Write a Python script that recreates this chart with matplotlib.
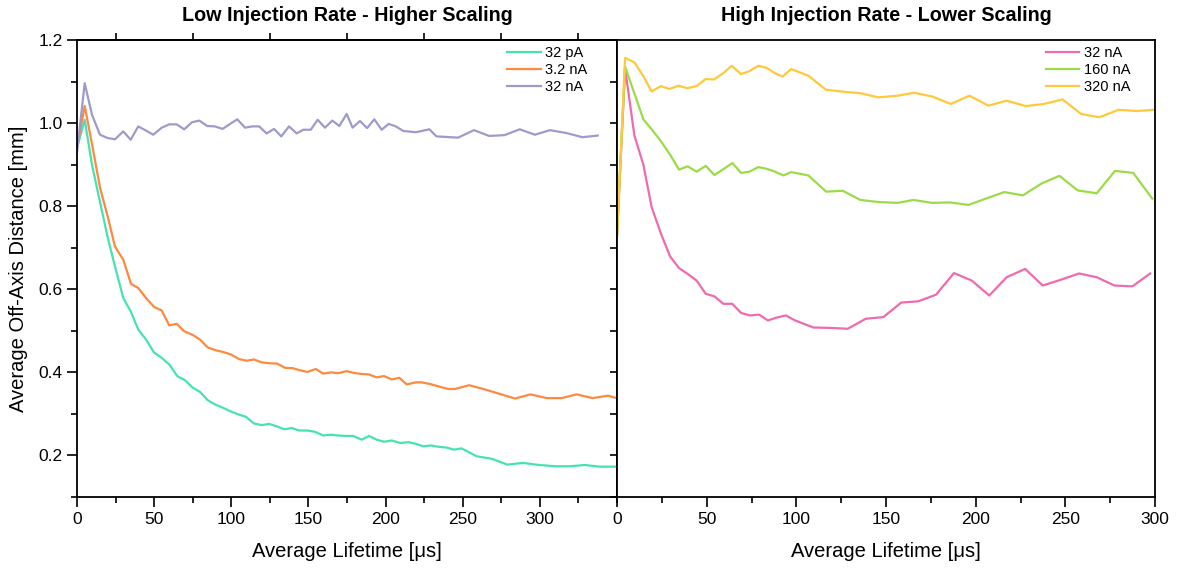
import matplotlib
import matplotlib.pyplot as plt
from matplotlib.ticker import MultipleLocator, FixedLocator, NullFormatter

matplotlib.use("Agg")

plt.rcParams.update({
    "font.family": ["Liberation Sans", "DejaVu Sans"],
    "font.size": 12.5,
    "axes.linewidth": 1.3,
})

# --- data: left panel (low injection rate) ---
x_32pA = [0, 5, 9.7, 14.9, 19.9, 24.6, 30, 34.8, 39.7, 44.7, 49.9, 54.9, 59.8, 65, 70,
          75, 79.7, 84.7, 89.4, 94.4, 99.6, 104.5, 109.5, 114.7, 119.7, 124.6, 129.4,
          134.3, 139.1, 144.1, 149.3, 154.2, 159.6, 164.6, 169.3, 174.5, 179, 184.5,
          189.4, 194.2, 199, 204, 209.5, 214.7, 219.7, 224.4, 229.2, 234.2, 239.6,
          244.3, 249.3, 259, 268.8, 278.9, 289.2, 299.6, 309.8, 319.5, 329.2, 339, 348.7]
y_32pA = [0.94, 1.008, 0.90, 0.81, 0.725, 0.655, 0.579, 0.547, 0.503, 0.479, 0.448, 0.435,
          0.419, 0.391, 0.381, 0.363, 0.353, 0.333, 0.323, 0.315, 0.306, 0.299, 0.293,
          0.277, 0.273, 0.276, 0.270, 0.263, 0.266, 0.260, 0.260, 0.257, 0.248, 0.250,
          0.248, 0.247, 0.247, 0.238, 0.247, 0.238, 0.233, 0.236, 0.230, 0.232, 0.228,
          0.222, 0.224, 0.221, 0.219, 0.214, 0.217, 0.198, 0.192, 0.178, 0.182, 0.177,
          0.174, 0.174, 0.177, 0.173, 0.173]

x_3_2nA = [0, 5, 9.7, 14.9, 19.9, 24.6, 30, 35, 39.7, 45.2, 50.1, 54.9, 59.8, 64.6, 69.5,
           75, 79.7, 84.7, 90.1, 94.8, 99.8, 105, 110, 114.7, 119.7, 124.6, 129.8, 134.8,
           139.8, 144.5, 149.3, 154.7, 159.6, 164.6, 169.3, 174.8, 179.1, 184.5, 189.2,
           194.2, 199, 204, 208.9, 213.7, 219.7, 223.4, 228.8, 234.5, 240.6, 245, 254.2,
           264.4, 274.1, 283.9, 294, 304.4, 314.1, 323.8, 334.2, 344.3, 348.7]
y_3_2nA = [0.94, 1.041, 0.95, 0.845, 0.775, 0.703, 0.671, 0.613, 0.603, 0.577, 0.557, 0.549,
           0.513, 0.517, 0.499, 0.490, 0.479, 0.460, 0.453, 0.449, 0.443, 0.432, 0.428,
           0.431, 0.424, 0.422, 0.421, 0.411, 0.410, 0.405, 0.401, 0.408, 0.397, 0.400,
           0.398, 0.403, 0.399, 0.396, 0.395, 0.388, 0.391, 0.383, 0.387, 0.371, 0.376,
           0.376, 0.372, 0.366, 0.360, 0.360, 0.369, 0.359, 0.348, 0.337, 0.347, 0.338,
           0.338, 0.347, 0.338, 0.344, 0.339]

x_32nA_low = [0, 5, 9.7, 14.9, 19.9, 24.6, 30, 34.8, 39.7, 44.7, 49.4, 54.9, 59.8, 64.6,
              69.5, 74.5, 79.3, 84.4, 89.4, 94.4, 99.2, 103.9, 108.9, 113.6, 118.1, 122.9,
              127.7, 132.4, 137.4, 142.4, 146.7, 151.5, 156, 160.7, 165.5, 170, 174.8,
              178.6, 183.4, 188, 192.7, 197.5, 202, 206.7, 211.5, 219.7, 228.4, 233, 247,
              257.3, 267.2, 277, 287, 296.8, 306.5, 317.3, 327.5, 337.5]
y_32nA_low = [0.93, 1.096, 1.02, 0.972, 0.964, 0.961, 0.98, 0.96, 0.992, 0.982, 0.972,
              0.989, 0.997, 0.997, 0.985, 1.002, 1.006, 0.993, 0.992, 0.986, 0.998, 1.009,
              0.989, 0.992, 0.992, 0.975, 0.986, 0.968, 0.992, 0.975, 0.984, 0.984, 1.008,
              0.989, 1.006, 0.993, 1.022, 0.989, 1.005, 0.988, 1.009, 0.984, 0.998, 0.992,
              0.981, 0.978, 0.985, 0.968, 0.965, 0.983, 0.969, 0.971, 0.985, 0.972, 0.983,
              0.976, 0.966, 0.970]

# --- data: right panel (high injection rate) ---
x_32nA_high = [0, 4.5, 9.7, 14.7, 19.3, 24.4, 29.6, 34.6, 39.4, 44.4, 49.5, 54.3, 59.3,
               64.3, 69.2, 74.2, 79.2, 84.1, 89.1, 94.1, 99.3, 109.5, 118.8, 128.7, 138.7,
               148.5, 158.5, 168, 177.9, 187.9, 197.8, 207.6, 217.3, 227.6, 237.4, 247.5,
               257.7, 267.5, 277.4, 287.4, 297.3]
y_32nA_high = [0.73, 1.132, 0.970, 0.900, 0.798, 0.735, 0.679, 0.651, 0.637, 0.621, 0.589,
               0.583, 0.565, 0.565, 0.543, 0.537, 0.539, 0.525, 0.532, 0.537, 0.525, 0.508,
               0.507, 0.505, 0.529, 0.533, 0.568, 0.571, 0.587, 0.639, 0.621, 0.585, 0.629,
               0.649, 0.609, 0.623, 0.638, 0.629, 0.609, 0.607, 0.638]

x_160nA = [0, 4.5, 14.7, 19.3, 24.4, 29.6, 34.6, 39.4, 44.4, 49.5, 54.3, 59.3, 64.3, 69.2,
           73.8, 78.8, 83.5, 88.1, 92.8, 97.1, 102, 106.7, 116.6, 125.9, 135.7, 145.7, 156.5,
           165.3, 175.5, 185.7, 196, 206.2, 216, 226.3, 236.9, 246.7, 256.9, 267.5, 277.7,
           287.9, 298.5]
y_160nA = [0.73, 1.136, 1.009, 0.985, 0.957, 0.924, 0.888, 0.896, 0.883, 0.897, 0.875, 0.889,
           0.904, 0.880, 0.883, 0.894, 0.890, 0.883, 0.874, 0.882, 0.878, 0.874, 0.835, 0.837,
           0.815, 0.810, 0.808, 0.815, 0.808, 0.809, 0.803, 0.819, 0.834, 0.826, 0.855, 0.873,
           0.838, 0.831, 0.885, 0.880, 0.818]

x_320nA = [0, 4.5, 9.7, 14.7, 19.3, 24.4, 29.2, 34.2, 39.2, 44.4, 49.4, 54.2, 59.2, 64,
           69.1, 73.8, 78.8, 83.5, 88.1, 92.4, 97.1, 102, 106.7, 116.6, 125.3, 135.5, 145.7,
           156.5, 165.6, 175.8, 186.1, 196.5, 207.1, 217.3, 227.9, 238.1, 248.4, 258.8, 269,
           279.6, 289.8, 299.6]
y_320nA = [0.73, 1.157, 1.146, 1.113, 1.076, 1.089, 1.082, 1.090, 1.084, 1.089, 1.106, 1.105,
           1.120, 1.138, 1.118, 1.125, 1.138, 1.133, 1.120, 1.112, 1.130, 1.122, 1.114, 1.080,
           1.076, 1.072, 1.062, 1.066, 1.073, 1.064, 1.046, 1.066, 1.042, 1.054, 1.041, 1.046,
           1.057, 1.022, 1.014, 1.032, 1.029, 1.032]

CYAN = "#45e3b4"
ORANGE = "#fd8a3e"
LAVENDER = "#9e9bcb"
PINK = "#f06aae"
GREEN = "#9bdc46"
YELLOW = "#fec93c"
LW = 1.6


def style_axes(ax):
    ax.set_ylim(0.1, 1.2)
    ax.yaxis.set_major_locator(MultipleLocator(0.2))
    ax.yaxis.set_minor_locator(MultipleLocator(0.1))
    ax.xaxis.set_minor_locator(MultipleLocator(25))
    ax.tick_params(which="major", direction="out", length=7, width=1.2, colors="black",
                   labelsize=12.5)
    ax.tick_params(which="minor", direction="out", length=4, width=1.2, colors="black")
    ax.set_xlabel("Average Lifetime [\u03bcs]", fontsize=14.5, labelpad=11)


fig = plt.figure(figsize=(11.8, 5.71), dpi=100)
ax1 = fig.add_axes([77 / 1180, 74 / 571, 540 / 1180, 457 / 571])
ax2 = fig.add_axes([617 / 1180, 74 / 571, 538 / 1180, 457 / 571])

# left panel
ax1.plot(x_32pA, y_32pA, color=CYAN, lw=LW, label="32 pA")
ax1.plot(x_3_2nA, y_3_2nA, color=ORANGE, lw=LW, label="3.2 nA")
ax1.plot(x_32nA_low, y_32nA_low, color=LAVENDER, lw=LW, label="32 nA")
ax1.set_xlim(0, 350)
style_axes(ax1)
ax1.xaxis.set_major_locator(FixedLocator([0, 50, 100, 150, 200, 250, 300]))
ax1.set_ylabel("Average Off-Axis Distance [mm]", fontsize=14.5, labelpad=7)
ax1.set_title("Low Injection Rate - Higher Scaling", fontsize=14.2, fontweight="bold",
              y=1.0, pad=14)
top = ax1.secondary_xaxis("top")
top.xaxis.set_major_locator(FixedLocator(list(range(25, 350, 50))))
top.xaxis.set_major_formatter(NullFormatter())
top.tick_params(direction="out", length=5, width=1.2)
right = ax1.secondary_yaxis("right")
right.yaxis.set_major_locator(MultipleLocator(0.1))
right.yaxis.set_major_formatter(NullFormatter())
right.tick_params(direction="in", length=5, width=1.2)
ax1.legend(loc="upper right", bbox_to_anchor=(0.956, 1.0), borderaxespad=0, frameon=False,
           fontsize=10.5, handlelength=2.3, handletextpad=0.3, labelspacing=0.22)

# right panel
ax2.plot(x_32nA_high, y_32nA_high, color=PINK, lw=LW, label="32 nA")
ax2.plot(x_160nA, y_160nA, color=GREEN, lw=LW, label="160 nA")
ax2.plot(x_320nA, y_320nA, color=YELLOW, lw=LW, label="320 nA")
ax2.set_xlim(0, 300)
style_axes(ax2)
ax2.xaxis.set_major_locator(MultipleLocator(50))
ax2.tick_params(axis="y", which="both", left=False, labelleft=False)
ax2.set_title("High Injection Rate - Lower Scaling", fontsize=14.2, fontweight="bold",
              y=1.0, pad=14)
ax2.legend(loc="upper right", bbox_to_anchor=(0.965, 1.0), borderaxespad=0, frameon=False,
           fontsize=10.5, handlelength=2.3, handletextpad=0.3, labelspacing=0.22)

fig.savefig("out.png", dpi=100)
